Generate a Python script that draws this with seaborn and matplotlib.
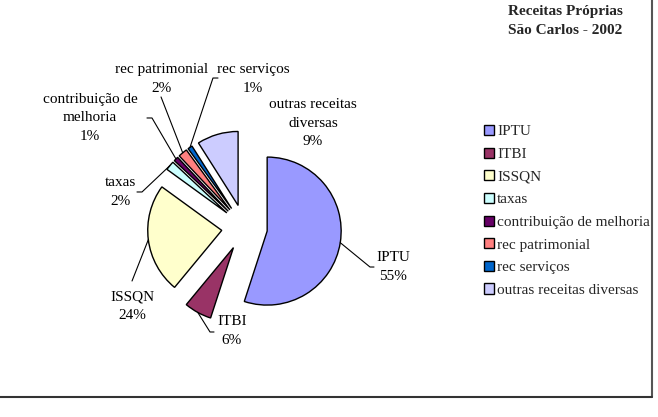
import matplotlib
matplotlib.use("Agg")
import matplotlib.pyplot as plt
import seaborn as sns
from matplotlib.lines import Line2D
import numpy as np

# dados
categorias = ["IPTU", "ITBI", "ISSQN", "taxas", "contribuição de melhoria",
              "rec patrimonial", "rec serviços", "outras receitas diversas"]
rotulos = ["IPTU", "ITBI", "ISSQN", "taxas", "contribuição de\nmelhoria",
           "rec patrimonial", "rec serviços", "outras receitas\ndiversas"]
percentuais = [55, 6, 24, 2, 1, 2, 1, 9]
cores = ["#9999FF", "#993366", "#FFFFCC", "#CCFFFF", "#660066",
         "#FF8080", "#0066CC", "#CCCCFF"]

# posicao dos rotulos (unidades do raio) e pontos das linhas guia
pos_rotulos = [(2.007, -0.534), (-0.169, -1.399), (-1.520, -1.061), (-1.682, 0.480),
               (-2.088, 1.480), (-1.115, 2.007), (0.115, 2.007), (0.926, 1.412)]
guias = [[(1.696, -0.534), (1.75, -0.534)],
         [(-0.466, -1.412), (-0.412, -1.412)],
         [(-1.520, -0.723)],
         [(-1.385, 0.480), (-1.453, 0.480)],
         [(-1.250, 1.480), (-1.318, 1.480)],
         [(-1.128, 1.764)],
         [(-0.426, 2.020), (-0.358, 2.020)],
         None]

sns.set_theme(style="white")
plt.rcParams['font.family'] = ['Liberation Serif', 'DejaVu Serif']
fs = 11

fig = plt.figure(figsize=(6.58, 4.17), dpi=100)
ax = fig.add_axes([96.5 / 658, (417 - 375.5) / 417, 296 / 658, 296 / 417])

wedges, _ = ax.pie(percentuais, colors=sns.color_palette(cores), startangle=90,
                   counterclock=False, explode=[0.31] * len(percentuais),
                   wedgeprops=dict(edgecolor="black", linewidth=1.0))
ax.set_xlim(-2, 2)
ax.set_ylim(-2, 2)
ax.set_aspect("auto")
ax.axis("off")

for w, rot, p, (lx, ly), g in zip(wedges, rotulos, percentuais, pos_rotulos, guias):
    ax.text(lx, ly, f"{rot}\n{p}%", ha="center", va="center", fontsize=fs,
            linespacing=1.55, color="black")
    if g is None:
        continue
    meio = np.deg2rad((w.theta1 + w.theta2) / 2)
    cx, cy = w.center
    x0 = cx + w.r * np.cos(meio)
    y0 = cy + w.r * np.sin(meio)
    xs = [x0] + [q[0] for q in g]
    ys = [y0] + [q[1] for q in g]
    ax.plot(xs, ys, color="black", lw=0.8, clip_on=False)

fig.legend(wedges, categorias, loc="upper left",
           bbox_to_anchor=(484 / 658, 1 - 125 / 417), frameon=False,
           fontsize=fs, handlelength=0.65, handleheight=0.65, handletextpad=0.2,
           labelspacing=0.6, borderpad=0, borderaxespad=0)

fig.text(565 / 658, 1 - 21 / 417, "Receitas Próprias\nSão Carlos - 2002",
         ha="center", va="center", fontsize=fs, fontweight="bold", linespacing=1.5)

# moldura
fig.add_artist(Line2D([652 / 658, 652 / 658], [1, 1 - 397 / 417],
                      transform=fig.transFigure, color="#555555", lw=1.5))
fig.add_artist(Line2D([0, 652 / 658], [1 - 397 / 417, 1 - 397 / 417],
                      transform=fig.transFigure, color="#333333", lw=1.5))

fig.savefig("out.png", dpi=100, facecolor="white")
